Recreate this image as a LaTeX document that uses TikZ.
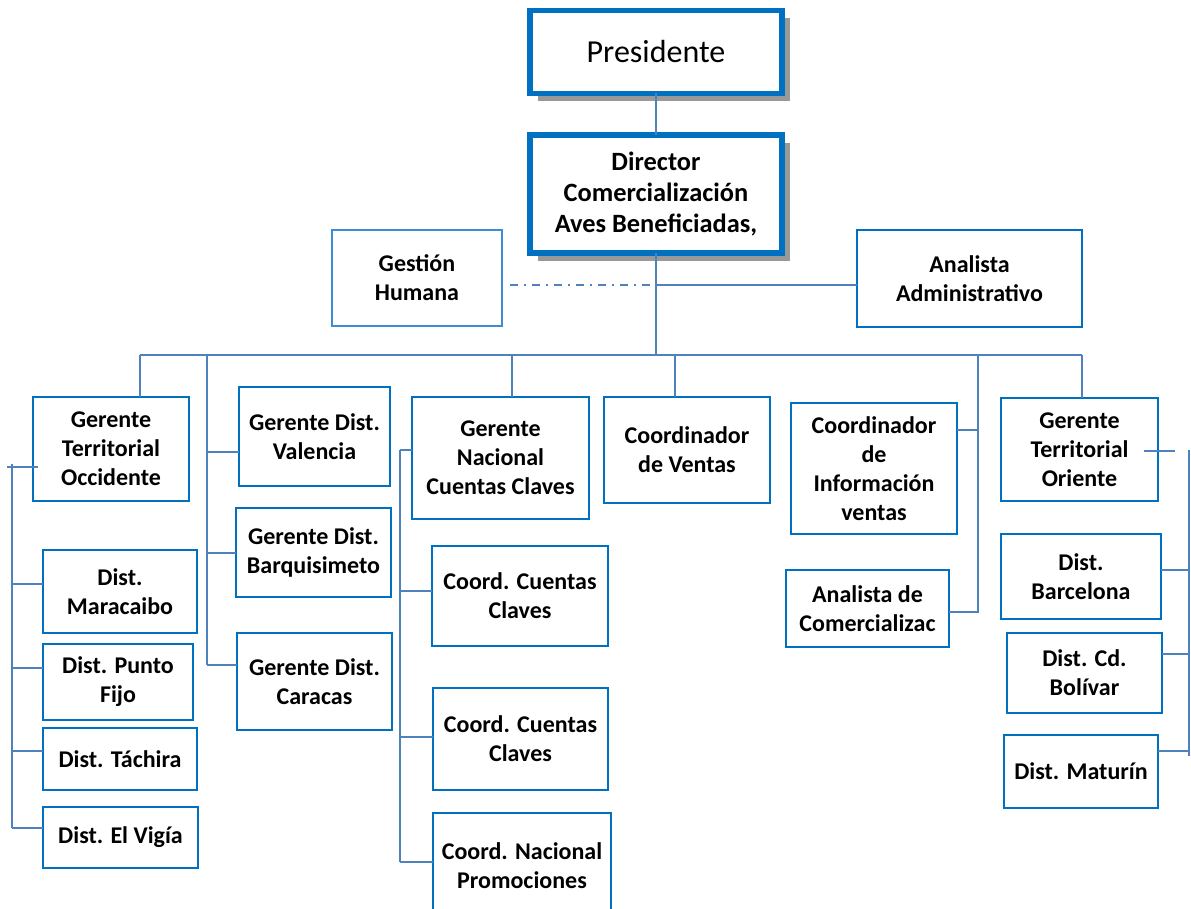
\documentclass[tikz,border=0pt]{standalone}
\usepackage{fontspec}
\setmainfont{Carlito}
\usetikzlibrary{positioning,shadows}
\definecolor{boxblue}{HTML}{0070C0}
\definecolor{linkblue}{HTML}{4F81BD}
\definecolor{staffblue}{HTML}{3C8DD6}
\tikzset{
  unit/.style={draw=boxblue, line width=1.3pt, fill=white, align=center,
    inner sep=1pt, outer sep=0pt, font=\bfseries\fontsize{12}{14.6}\selectfont},
  head/.style={unit, line width=2.6pt,
    drop shadow={shadow xshift=4pt, shadow yshift=-4pt, fill=black!40, opacity=1}},
  staff/.style={unit, draw=staffblue, line width=0.7pt},
  wh/.style 2 args={minimum width=#1pt, minimum height=#2pt},
  link/.style={draw=linkblue, line width=0.9pt},
  dotlink/.style={link, dash pattern=on 4pt off 3pt on 1pt off 3pt}
}

\begin{document}
\begin{tikzpicture}[x=0.5pt, y=-0.5pt]
  \useasboundingbox (0,0) rectangle (1191,909);

  % direccion
  \node (pres) [head, wh={126}{41.5}, font=\fontsize{16}{19}\selectfont] at (656,52) {Presidente};
  \node (dir) [head, wh={126}{59}, font=\bfseries\fontsize{13.2}{15.3}\selectfont] at (656,194) {Director\\Comercialización\\Aves Beneficiadas,};
  \node (gh) [staff, wh={85}{48}] at (417,278) {Gestión\\Humana};
  \node (ana) [unit, wh={112.5}{48.5}] at (969.5,278.5) {Analista\\Administrativo};

  % segundo nivel
  \node (occ) [unit, wh={78}{52}] at (111,449) {Gerente\\Territorial\\Occidente};
  \node (val) [unit, wh={75.5}{49.5}] at (314.5,436.5) {Gerente Dist.\\Valencia};
  \node (bar) [unit, wh={77.5}{44.5}] at (313.5,552.5) {Gerente Dist.\\Barquisimeto};
  \node (car) [unit, wh={77.5}{48.5}] at (314.5,681.5) {Gerente Dist.\\Caracas};
  \node (gnc) [unit, wh={88.5}{61}] at (500.5,458) {Gerente\\Nacional\\Cuentas Claves};
  \node (cv) [unit, wh={83}{53}] at (687,450) {Coordinador\\de Ventas};
  \node (cinf) [unit, wh={83}{65.5}] at (874,468.5) {Coordinador\\de\\Información\\ventas};
  \node (acom) [unit, wh={81.5}{38.5}] at (867.5,608.5) {Analista de\\Comercializac};
  \node (ori) [unit, wh={78.5}{51.5}] at (1079.5,449.5) {Gerente\\Territorial\\Oriente};

  % occidente
  \node (mcb) [unit, wh={77}{41.5}] at (120,591.5) {Dist.\\Maracaibo};
  \node (pfj) [unit, wh={75}{38}] at (118,682) {Dist. Punto\\Fijo};
  \node (tch) [unit, wh={77}{31}] at (120,759) {Dist. Táchira};
  \node (vig) [unit, wh={77.5}{30.5}] at (120.5,837.5) {Dist. El Vigía};

  % cuentas claves
  \node (ccc1) [unit, wh={88}{50}] at (520,596) {Coord. Cuentas\\Claves};
  \node (ccc2) [unit, wh={87.5}{51}] at (520.5,739) {Coord. Cuentas\\Claves};
  \node (cnp) [unit, wh={89}{53}] at (522,866) {Coord. Nacional\\Promociones};

  % oriente
  \node (bcn) [unit, wh={80}{42.5}] at (1081,576.5) {Dist.\\Barcelona};
  \node (bol) [unit, wh={77.5}{40}] at (1084.5,673) {Dist. Cd.\\Bolívar};
  \node (mat) [unit, wh={77}{36.5}] at (1081,771.5) {Dist. Maturín};

  % lineas de mando
  \coordinate (hub) at (656,285);
  \coordinate (busL) at (140,355);
  \coordinate (busR) at (1082,355);
  \coordinate (dropA) at (207,355);
  \coordinate (endA) at (207,665);
  \coordinate (dropN) at (512,355);
  \coordinate (dropV) at (675,355);
  \coordinate (dropI) at (978,355);
  \coordinate (endI) at (978,613);

  \draw [link] (pres.south) -- (dir.north);
  \draw [link] (dir.south) -- (dir.south |- busL);
  \draw [dotlink] ([xshift=4pt]gh.east |- hub) -- (hub);
  \draw [link] (hub) -- (hub -| ana.west);
  \draw [link] (busL) -- (busR);
  \draw [link] (busL) -- (busL |- occ.north);
  \draw [link] (dropN) -- (dropN |- gnc.north);
  \draw [link] (dropV) -- (dropV |- cv.north);
  \draw [link] (busR) -- (busR |- ori.north);

  \draw [link] (dropA) -- (endA);
  \foreach \b/\yy in {val/452, bar/553, car/665} {
    \coordinate (s-\b) at (207,\yy);
    \draw [link] (s-\b) -- (s-\b -| \b.west);
  }

  \draw [link] (dropI) -- (endI);
  \foreach \b/\yy in {cinf/430, acom/612} {
    \coordinate (s-\b) at (978,\yy);
    \draw [link] (s-\b) -- (s-\b -| \b.east);
  }

  \coordinate (topO) at (12,464);
  \coordinate (botO) at (12,828);
  \coordinate (occT) at (7,467);
  \draw [link] (topO) -- (botO);
  \draw [link] (occT) -- ([xshift=2.5pt]occT -| occ.west);
  \foreach \b/\yy in {mcb/584, pfj/668, tch/751, vig/828} {
    \coordinate (s-\b) at (12,\yy);
    \draw [link] (s-\b) -- (s-\b -| \b.west);
  }

  \coordinate (topN) at (400,450);
  \coordinate (botN) at (400,862);
  \draw [link] (topN) -- (botN);
  \foreach \b/\yy in {gnc/450, ccc1/591, ccc2/737, cnp/862} {
    \coordinate (s-\b) at (400,\yy);
    \draw [link] (s-\b) -- (s-\b -| \b.west);
  }

  \coordinate (topE) at (1189,450);
  \coordinate (botE) at (1189,756);
  \coordinate (oriT) at (1175,451);
  \draw [link] (topE) -- (botE);
  \draw [link] (oriT) -- ([xshift=-7pt]oriT -| ori.east);
  \foreach \b/\yy in {bcn/570, bol/654, mat/751} {
    \coordinate (s-\b) at (1189,\yy);
    \draw [link] (s-\b) -- (s-\b -| \b.east);
  }
\end{tikzpicture}
\end{document}
